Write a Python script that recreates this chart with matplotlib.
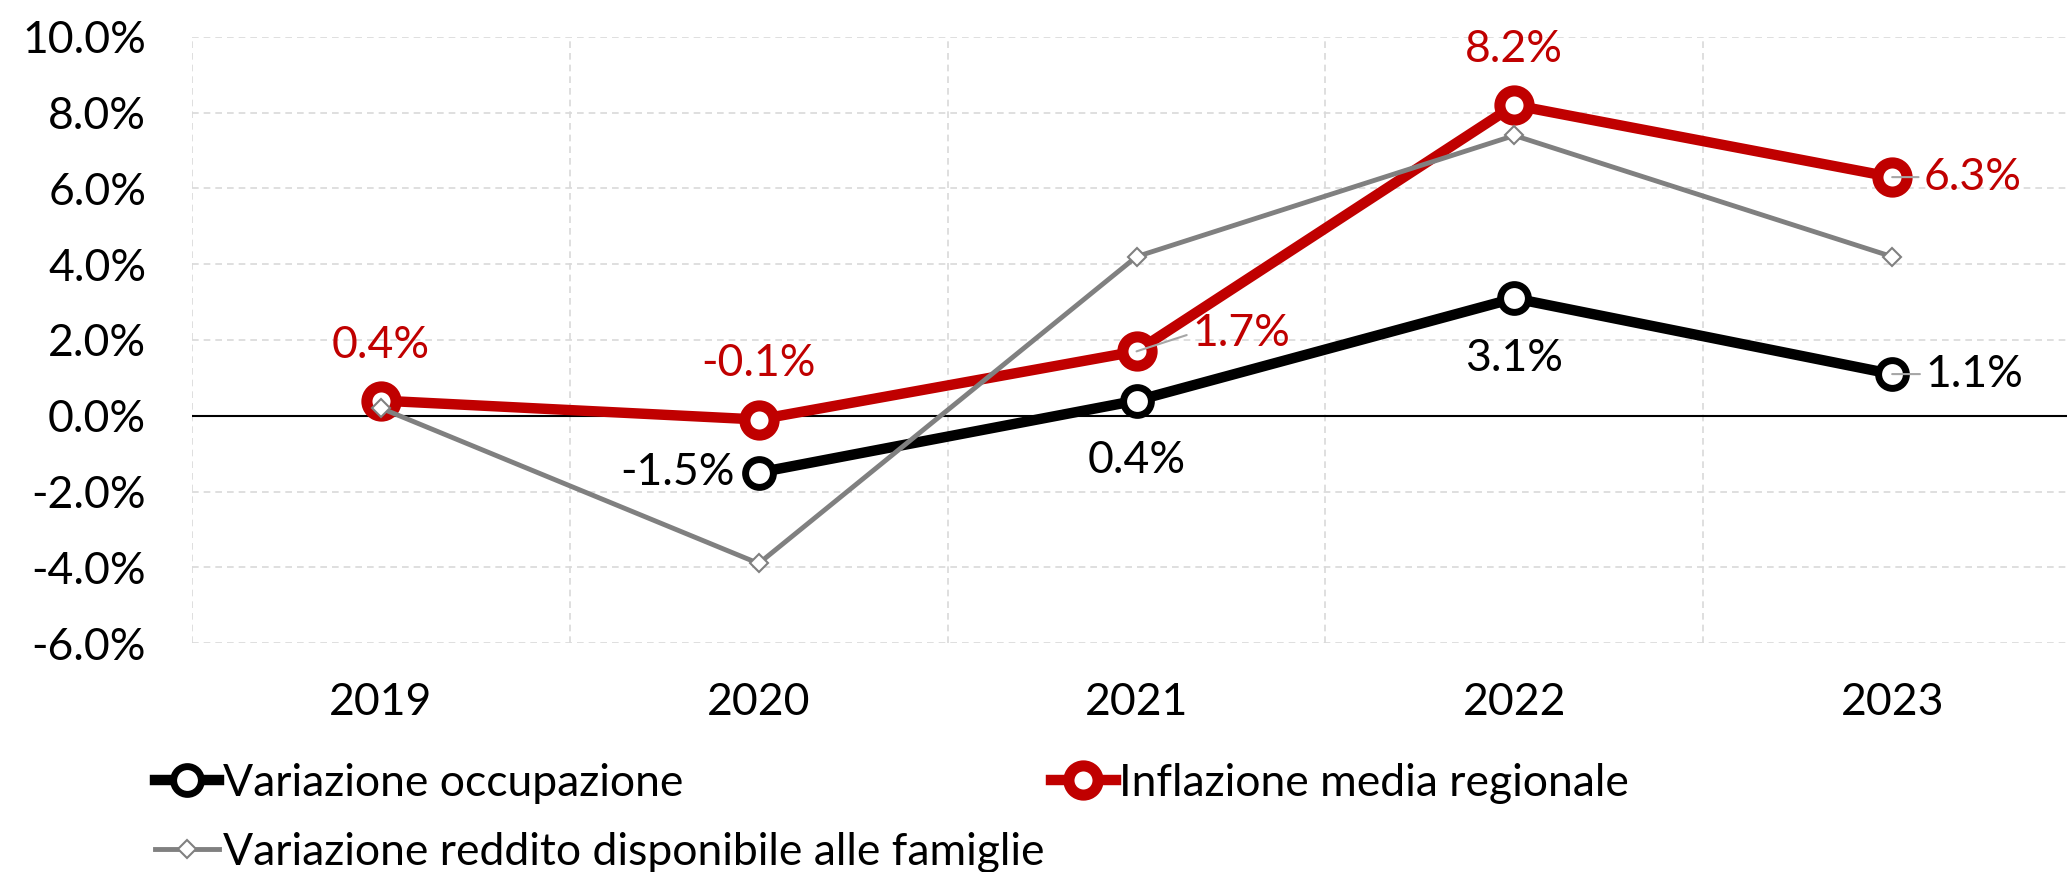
import numpy as np
import matplotlib
matplotlib.use("Agg")
import matplotlib.pyplot as plt
import matplotlib.ticker as mticker

plt.rcParams["font.family"] = ["Lato", "DejaVu Sans"]

# ── data ──────────────────────────────────────────────────────────────────────
years       = ["2019", "2020", "2021", "2022", "2023"]
occupazione = [np.nan, -1.5, 0.4, 3.1, 1.1]
inflazione  = [0.4, -0.1, 1.7, 8.2, 6.3]
reddito     = [0.2, -3.9, 4.2, 7.4, 4.2]

RED   = "#C00000"
BLACK = "#000000"
GRAY  = "#808080"
GRID  = "#D9D9D9"

fig = plt.figure(figsize=(20.67, 8.72), dpi=100)
ax = fig.add_axes([0.0929, 0.2626, 0.9139, 0.695])

x = np.arange(len(years))

h_occ, = ax.plot(x, occupazione, color=BLACK, lw=7.5, marker="o", ms=20,
                 mfc="white", mec=BLACK, mew=5, zorder=4,
                 label="Variazione occupazione")
h_inf, = ax.plot(x, inflazione, color=RED, lw=7.5, marker="o", ms=21,
                 mfc="white", mec=RED, mew=8, zorder=5,
                 label="Inflazione media regionale")
h_red, = ax.plot(x, reddito, color=GRAY, lw=3.5, marker="D", ms=9,
                 mfc="white", mec=GRAY, mew=1.5, zorder=6,
                 label="Variazione reddito disponibile alle famiglie")

ax.axhline(0, color="black", lw=1.5, zorder=2)

# data labels: index -> (dx, dy, ha, leader line)
lab_fs = 32
red_pos = {0: (0, 40, "center", False), 1: (0, 40, "center", False),
           2: (40, 13, "left", True), 3: (0, 40, "center", False),
           4: (23, 0, "left", True)}
blk_pos = {1: (-17, 0, "right", False), 2: (0, -43, "center", False),
           3: (0, -43, "center", False), 4: (24, 0, "left", True)}

for vals, col, pos in [(inflazione, RED, red_pos), (occupazione, BLACK, blk_pos)]:
    for i, (dx, dy, ha, leader) in pos.items():
        kw = {}
        if leader:
            kw["arrowprops"] = dict(arrowstyle="-", color="#A6A6A6", lw=1.5,
                                    shrinkA=2, shrinkB=0, relpos=(0, 0.5))
        ax.annotate(f"{vals[i]:.1f}%", xy=(x[i], vals[i]), xytext=(dx, dy),
                    textcoords="offset points", ha=ha, va="center",
                    fontsize=lab_fs, color=col, zorder=7, **kw)

# axes styling
ax.set_xlim(-0.5, len(years) - 0.5)
ax.set_ylim(-6, 10)
ax.set_xticks(x)
ax.set_xticklabels(years)
ax.set_xticks(np.arange(-0.5, len(years), 1.0), minor=True)
ax.yaxis.set_major_locator(mticker.MultipleLocator(2))
ax.yaxis.set_major_formatter(mticker.FuncFormatter(lambda v, p: f"{v:.1f}%"))

ax.grid(axis="y", which="major", color=GRID, ls=(0, (4, 3)), lw=1.2)
ax.grid(axis="x", which="minor", color=GRID, ls=(0, (4, 3)), lw=1.2)
ax.set_axisbelow(True)
for s in ax.spines.values():
    s.set_visible(False)
ax.tick_params(axis="both", which="both", length=0, labelsize=32)
ax.tick_params(axis="y", pad=33)
ax.tick_params(axis="x", pad=28)

# legend filled column-wise -> order handles so rows read occ, inf / reddito
handles = [h_occ, h_red, h_inf]
fig.legend(handles, [h.get_label() for h in handles],
           loc="upper left", bbox_to_anchor=(155 / 2067, 1 - 763 / 872),
           ncol=2, frameon=False, fontsize=32, handlelength=1.45,
           handletextpad=0.08, columnspacing=0.15, labelspacing=0.62,
           borderpad=0, borderaxespad=0, numpoints=1)

fig.savefig("out.png", dpi=100)
